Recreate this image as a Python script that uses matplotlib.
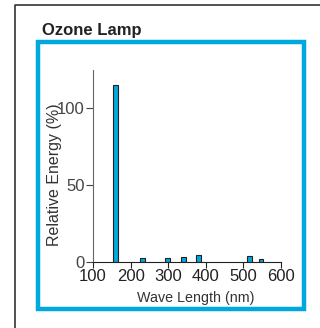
import matplotlib
matplotlib.use('Agg')
import matplotlib.pyplot as plt
from matplotlib.lines import Line2D
from matplotlib.patches import Rectangle

plt.rcParams['font.family'] = ['Liberation Sans', 'DejaVu Sans']

# emission lines of the lamp
wavelengths = [160, 232, 298, 341, 381, 516, 547]
energy = [115, 2.6, 2.6, 3.5, 4.3, 3.9, 1.7]
xticks = [100, 200, 300, 400, 500, 600]
yticks = [0, 50, 100]

W, H = 320, 328
BLUE = '#00a8e0'


def fx(x):
    return x / W


def fy(y):
    return 1 - y / H


fig = plt.figure(figsize=(W / 100, H / 100), dpi=100)

# outer panel border (top and left edges only)
fig.add_artist(Line2D([fx(15), fx(15), 1.0], [0.0, fy(5), fy(5)],
                      transform=fig.transFigure, color='#333333', lw=1.2))

fig.text(fx(42), fy(35), 'Ozone Lamp', fontsize=12, fontweight='bold',
         color='#222222', ha='left', va='baseline')

# blue frame round the plot
fig.add_artist(Rectangle((fx(38), fy(309)), fx(304) - fx(38), fy(42) - fy(309),
                         transform=fig.transFigure, fill=False,
                         edgecolor=BLUE, lw=3.2))

ax = fig.add_axes([fx(93), fy(262), fx(281) - fx(93), fy(70) - fy(262)])
ax.bar(wavelengths, energy, width=12, color=BLUE, edgecolor='#222222', linewidth=0.8)

ax.set_xlim(100, 600)
ax.set_ylim(0, 125)
ax.set_xticks(xticks)
ax.set_yticks(yticks)
ax.tick_params(axis='x', labelsize=12, length=4, pad=1, colors='#222222')
ax.tick_params(axis='y', labelsize=12, length=5, pad=1, colors='#444444')
for s in ['top', 'right']:
    ax.spines[s].set_visible(False)
ax.spines['left'].set_color('#666666')
ax.spines['bottom'].set_color('#222222')

ax.set_xlabel('Wave Length (nm)', fontsize=10.3, color='#333333')
ax.xaxis.set_label_coords((196 - 93) / (281 - 93), -(291 - 262) / (262 - 70))
ax.set_ylabel('Relative Energy (%)', fontsize=11.5, color='#333333')
ax.yaxis.set_label_coords(-(93 - 62) / (281 - 93), (262 - 175) / (262 - 70))

fig.savefig('out.png', dpi=100)
